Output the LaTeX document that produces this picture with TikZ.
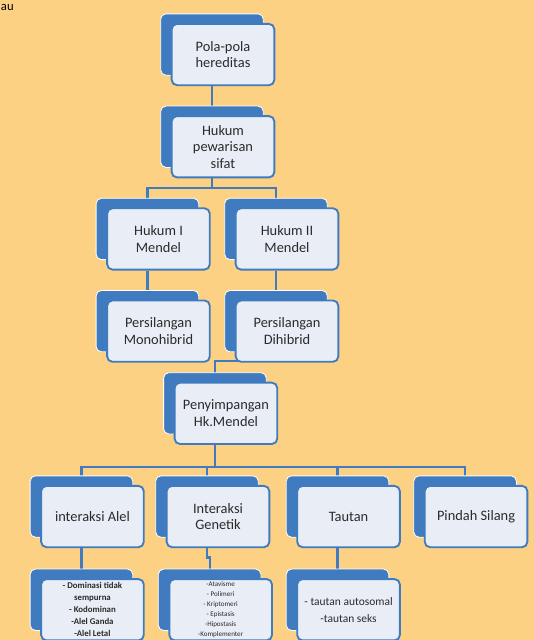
\documentclass[tikz,border=0pt]{standalone}
\usepackage{fontspec}
\setmainfont{Carlito}
\usetikzlibrary{positioning,shadows}
\definecolor{peach}{HTML}{FDD183}
\definecolor{boxblue}{HTML}{3F7BBE}
\definecolor{paleblue}{HTML}{E9EEF6}
\definecolor{ink}{HTML}{2A2A2A}
\pgfdeclarelayer{bg}
\pgfdeclarelayer{lines}
\pgfsetlayers{bg,lines,main}
\tikzset{
  card/.style={rectangle, rounded corners=4pt, draw=boxblue, line width=1.4pt,
    fill=paleblue, minimum width=77pt, minimum height=46pt, align=center,
    text=ink, font=\fontsize{10.8}{12.5}\selectfont,
    copy shadow={shadow xshift=-8.25pt, shadow yshift=7.5pt, fill=boxblue,
      draw=white, line width=0.6pt}},
  leaf/.style={card, inner sep=1pt},
  link/.style={draw=boxblue, line width=1.6pt},
}

\begin{document}
\begin{tikzpicture}[node distance=21.75pt]
  \useasboundingbox (0,0) rectangle (400.5pt,-480pt);
  \begin{pgfonlayer}{bg}
    \fill[peach] (0,0) rectangle (400.5pt,-480pt);
  \end{pgfonlayer}
  \node[anchor=base west, inner sep=0pt, font=\fontsize{9.5}{11}\selectfont] (au) at (0.5pt,-7.5pt) {au};
  % Define nodes
  \node[card] (pola) at (167.25pt,-40.9pt) {Pola-pola\\hereditas};
  \node[card, below=of pola] (hukum) {Hukum\\pewarisan\\sifat};
  \node[card, below=of hukum, xshift=-48.4pt] (mendelI) {Hukum I\\Mendel};
  \node[card, right=18pt of mendelI] (mendelII) {Hukum II\\Mendel};
  \node[card, below=of mendelI] (mono) {Persilangan\\Monohibrid};
  \node[card, below=of mendelII] (di) {Persilangan\\Dihibrid};
  \node[card, below=14.25pt of mono, xshift=50.6pt] (peny) {Penyimpangan\\Hk.Mendel};
  \node[card, below=30pt of peny, xshift=-100.1pt] (alel) {interaksi Alel};
  \node[card, right=15.75pt of alel] (genetik) {Interaksi\\Genetik};
  \node[card, right=19.5pt of genetik] (tautan) {Tautan};
  \node[card, right=17.25pt of tautan] (pindah) {Pindah Silang};
  % Define leaves
  \node[leaf, below=22.5pt of alel, font=\fontsize{6.6}{9}\selectfont\bfseries] (alelsub)
    {- Dominasi tidak\\sempurna\\- Kodominan\\-Alel Ganda\\-Alel Letal};
  \node[leaf, below=22.5pt of genetik, xshift=2pt, font=\fontsize{5.3}{7.5}\selectfont] (gensub)
    {-Atavisme\\- Polimeri\\- Kriptomeri\\- Epistasis\\-Hipostasis\\-Komplementer};
  \node[leaf, below=22.5pt of tautan, font=\fontsize{8.6}{12.5}\selectfont] (tautsub)
    {- tautan autosomal\\-tautan seks};
  % Define edges
  \begin{pgfonlayer}{lines}
    \draw[link] ([xshift=-8.25pt]pola.south) -- ([xshift=-8.25pt]hukum.north);
    \draw[link] ([xshift=-8.25pt]hukum.south) -- ++(0,-7.5pt) coordinate (bar1)
      -| ([xshift=-8.25pt]mendelI.north);
    \draw[link] (bar1) -| ([xshift=-8.25pt]mendelII.north);
    \draw[link] ([xshift=-8.25pt]mendelI.south) -- ([xshift=-8.25pt]mono.north);
    \draw[link] ([xshift=-8.25pt]mendelII.south) -- ([xshift=-8.25pt]di.north);
    \draw[link] ([xshift=-8.25pt,yshift=1pt]di.south) -| ([xshift=-8.25pt]peny.north);
    \draw[link] ([xshift=-8.25pt]peny.south) -- ++(0,-16.5pt) coordinate (bar2);
    \foreach \n in {alel,genetik,tautan,pindah}
      \draw[link] (bar2) -| ([xshift=-8.25pt]\n.north);
    \draw[link] ([xshift=-8.25pt]alel.south) -- ([xshift=-8.25pt]alelsub.north);
    \draw[link] ([xshift=-8.25pt]genetik.south) -- ++(0,-7pt) -| ([xshift=-8.25pt]gensub.north);
    \draw[link] ([xshift=-8.25pt]tautan.south) -- ([xshift=-8.25pt]tautsub.north);
  \end{pgfonlayer}
\end{tikzpicture}
\end{document}
